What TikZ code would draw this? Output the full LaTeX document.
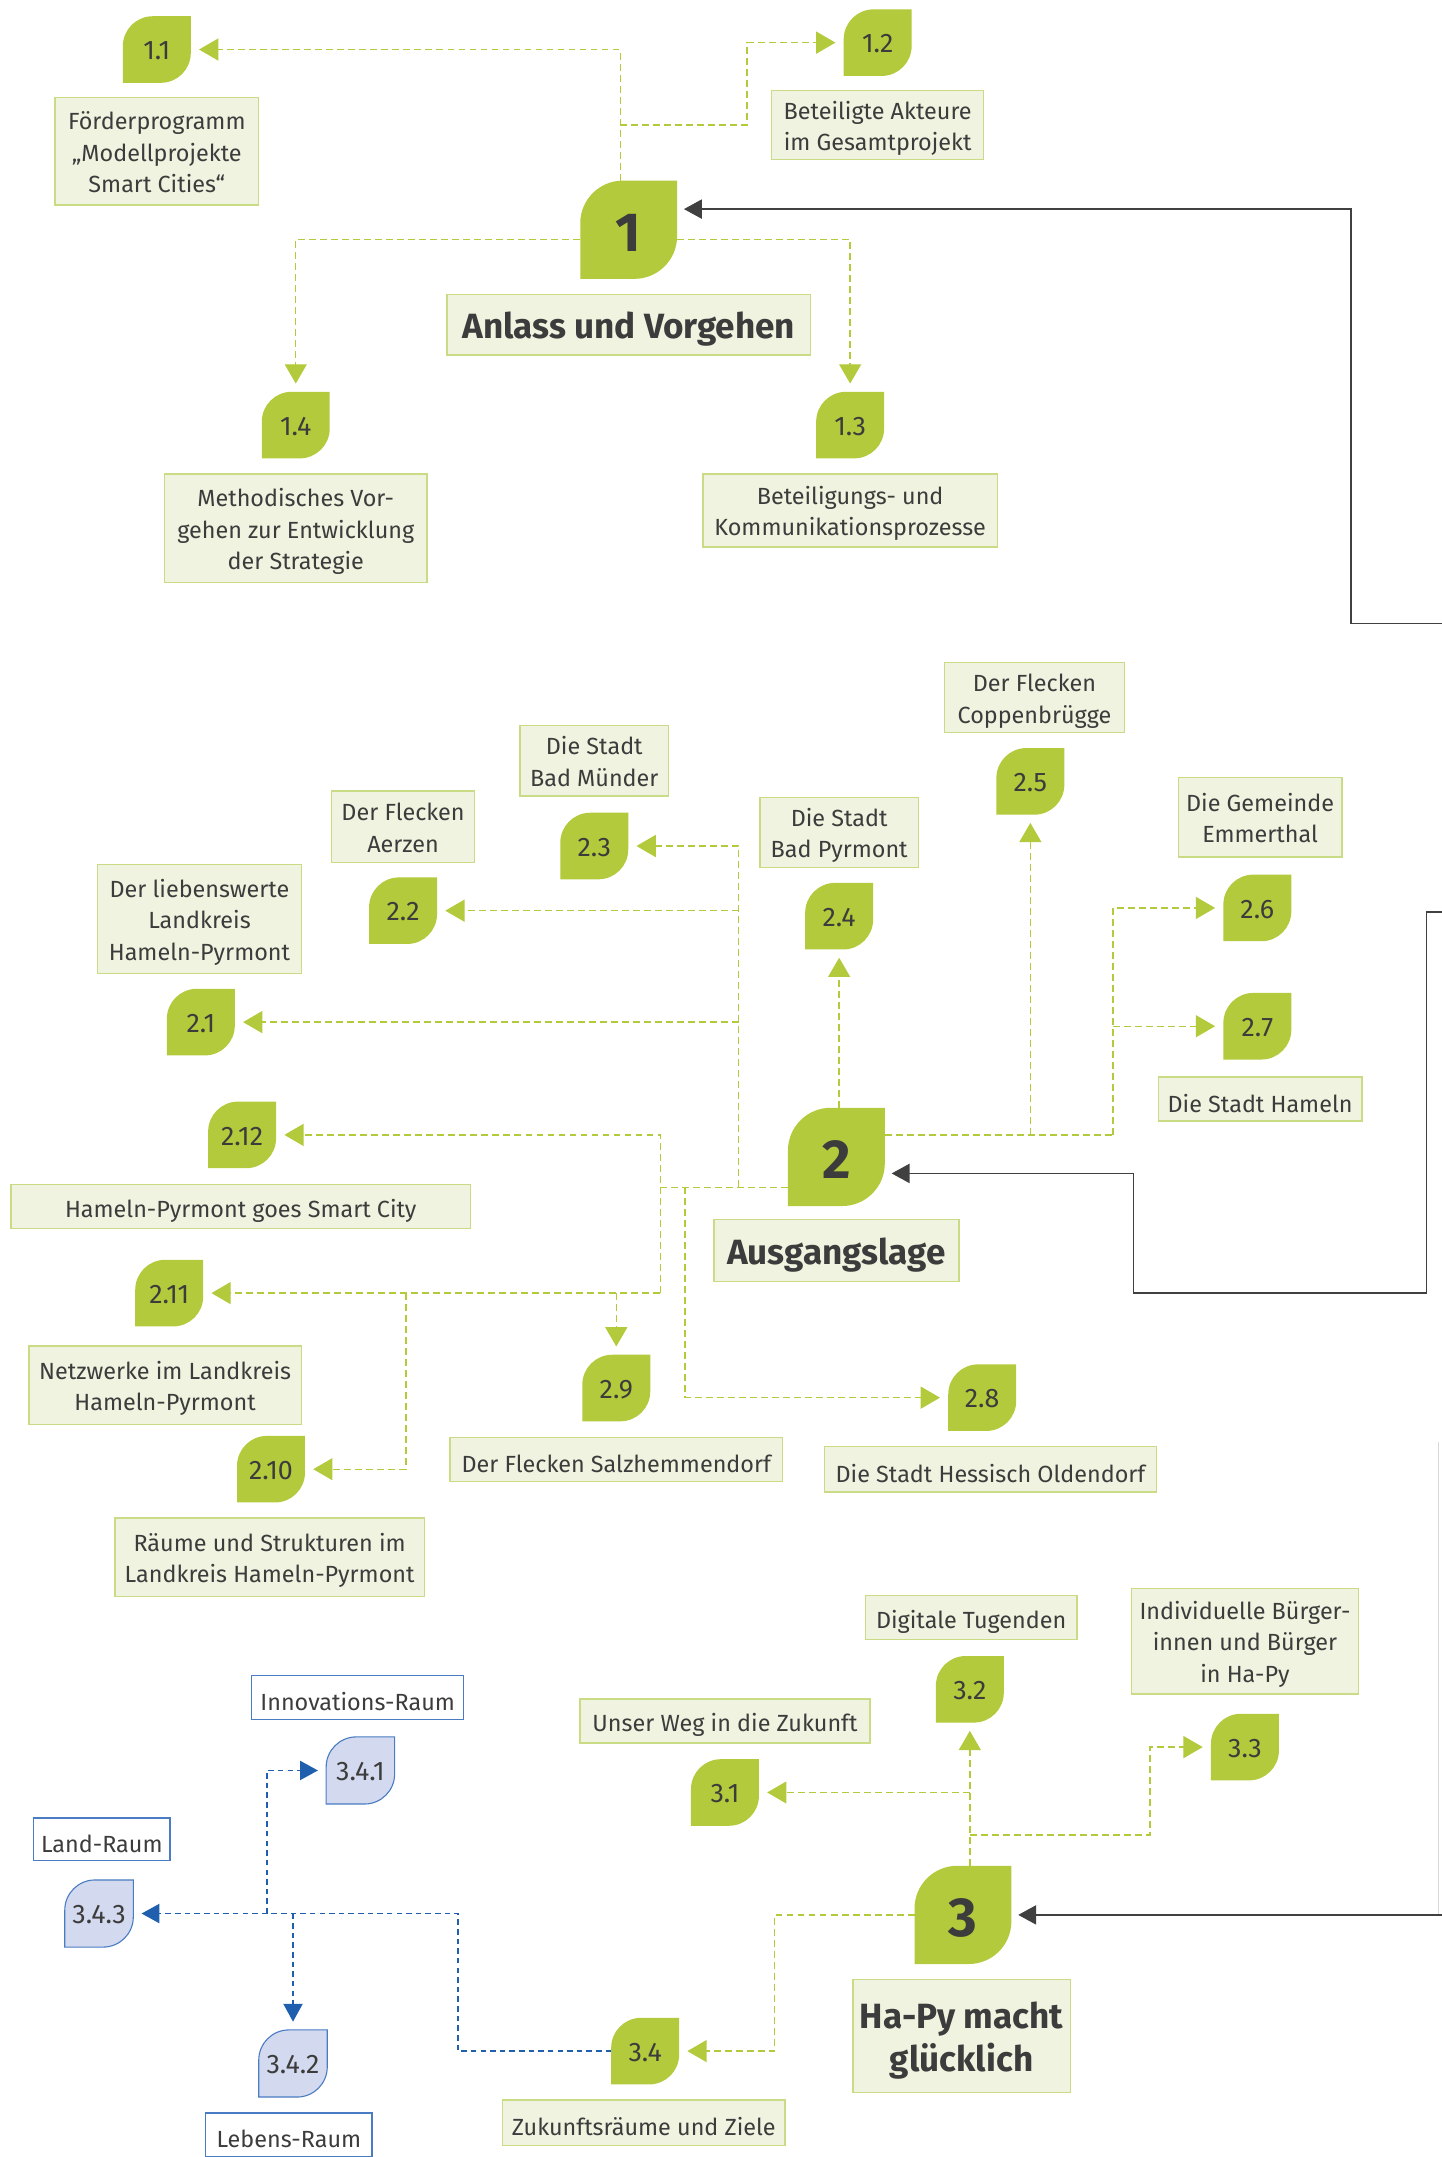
\documentclass[tikz,border=0pt]{standalone}
\usepackage{fontspec}
\setmainfont{Fira Sans}
\usetikzlibrary{arrows.meta}
\definecolor{leafg}{HTML}{B2CA3B}
\definecolor{boxfill}{HTML}{F0F3DF}
\definecolor{boxline}{HTML}{C9DB84}
\definecolor{txt}{HTML}{3C3C3C}
\definecolor{bluel}{HTML}{1F5FAE}
\definecolor{bluefill}{HTML}{D3D9EE}
\definecolor{blueline}{HTML}{4A7CC4}
\definecolor{darkline}{HTML}{404040}
\newcommand\dn[2][2.5pt]{\raisebox{-#1}[\height][\depth]{\begin{tabular}{@{}c@{}}#2\end{tabular}}}
\newdimen\lfxa \newdimen\lfya \newdimen\lfxb \newdimen\lfyb \newdimen\lfr
\makeatletter
\pgfdeclareshape{leaf}{
  \inheritsavedanchors[from=rectangle]
  \inheritanchorborder[from=rectangle]
  \inheritanchor[from=rectangle]{center}
  \inheritanchor[from=rectangle]{north}
  \inheritanchor[from=rectangle]{south}
  \inheritanchor[from=rectangle]{west}
  \inheritanchor[from=rectangle]{east}
  \inheritanchor[from=rectangle]{north west}
  \inheritanchor[from=rectangle]{north east}
  \inheritanchor[from=rectangle]{south west}
  \inheritanchor[from=rectangle]{south east}
  \inheritanchor[from=rectangle]{mid}
  \inheritanchor[from=rectangle]{base}
  \backgroundpath{
    \southwest \lfxa=\pgf@x \lfya=\pgf@y
    \northeast \lfxb=\pgf@x \lfyb=\pgf@y
    \lfr=\lfxb \advance\lfr by -\lfxa \lfr=0.44\lfr
    \pgfpathmoveto{\pgfqpoint{\lfxa}{\lfya}}
    \pgfpathlineto{\pgfpoint{\the\lfxa}{\the\lfyb-\the\lfr}}
    \pgfpatharc{180}{90}{\the\lfr}
    \pgfpathlineto{\pgfqpoint{\lfxb}{\lfyb}}
    \pgfpathlineto{\pgfpoint{\the\lfxb}{\the\lfya+\the\lfr}}
    \pgfpatharc{0}{-90}{\the\lfr}
    \pgfpathclose
  }
}
\makeatother
\tikzset{
  leaf/.style={shape=leaf, fill=leafg, minimum width=49pt, minimum height=48pt, inner sep=0pt, text=txt, font=\fontsize{19.5}{22}\selectfont, execute at begin node={\rule{0pt}{15pt}}},
  bigleaf/.style={leaf, minimum width=70pt, minimum height=71pt, font=\bfseries\fontsize{40}{44}\selectfont, execute at begin node={\rule{0pt}{32pt}}},
  bleaf/.style={leaf, fill=bluefill, draw=blueline, line width=0.8pt},
  lbl/.style={draw=boxline, fill=boxfill, line width=1pt, text=txt, inner sep=0pt, font=\fontsize{17}{23}\selectfont, execute at begin node={\rule{0pt}{19pt}}},
  ttl/.style={lbl, font=\bfseries\fontsize{25.5}{31}\selectfont, execute at begin node={\rule{0pt}{26pt}}},
  blbl/.style={lbl, draw=blueline, fill=white},
  gdash/.style={draw=leafg, line width=1pt, dash pattern=on 5pt off 3pt},
  garr/.style={gdash, -{Triangle[length=14pt,width=16pt]}, shorten >=6pt},
  barr/.style={draw=bluel, line width=1pt, dash pattern=on 4pt off 3pt, -{Triangle[length=13pt,width=14pt]}, shorten >=6pt},
  darr/.style={draw=darkline, line width=0.9pt, -{Triangle[length=13pt,width=14pt]}, shorten >=5pt}
}
\begin{document}
\begin{tikzpicture}[x=1pt,y=-1pt]
\useasboundingbox (0,0) rectangle (1048,1568);
% ---------- Section 1
\node[leaf] (l11) at (114,36) {1.1};
\node[lbl, minimum width=148pt, minimum height=78pt] (b11) at (114,110) {\dn{Förderprogramm\\„Modellprojekte\\Smart Cities“}};
\node[leaf] (l12) at (638,31) {1.2};
\node[lbl, minimum width=154pt, minimum height=50pt] (b12) at (638,91) {\dn{Beteiligte Akteure\\im Gesamtprojekt}};
\node[leaf, bigleaf] (l1) at (457,167) {1};
\node[ttl, minimum width=264pt, minimum height=44pt] (b1) at (457,236) {Anlass und Vorgehen};
\node[leaf] (l14) at (215,309) {1.4};
\node[lbl, minimum width=191pt, minimum height=79pt] (b14) at (215,384) {\dn{Methodisches Vor-\\gehen zur Entwicklung\\der Strategie}};
\node[leaf] (l13) at (618,309) {1.3};
\node[lbl, minimum width=214pt, minimum height=53pt] (b13) at (618,371) {\dn{Beteiligungs- und\\Kommunikationsprozesse}};

\draw[garr] ([xshift=-6pt]l1.north) |- (l11);
\draw[garr] ([xshift=-6pt]l1.north |- 0,91) -- (543,91) |- (l12);
\draw[garr] (l1.west |- 0,174) -| (l14);
\draw[garr] (l1.east |- 0,174) -| (l13);
\coordinate (e1) at (1048,453);
\draw[darr] (e1) -| (982,152) -- (l1.east |- 0,152);

% ---------- Section 2
\node[lbl, minimum width=131pt, minimum height=51pt] (b25) at (752,507) {\dn{Der Flecken\\Coppenbrügge}};
\node[leaf] (l25) at (749,568) {2.5};
\node[lbl, minimum width=108pt, minimum height=51pt] (b23) at (432,553) {\dn{Die Stadt\\Bad Münder}};
\node[leaf] (l23) at (432,615) {2.3};
\node[lbl, minimum width=104pt, minimum height=52pt] (b22) at (293,601) {\dn{Der Flecken\\Aerzen}};
\node[leaf] (l22) at (293,662) {2.2};
\node[lbl, minimum width=148pt, minimum height=79pt] (b21) at (145,668) {\dn{Der liebenswerte\\Landkreis\\Hameln-Pyrmont}};
\node[leaf] (l21) at (146,743) {2.1};
\node[lbl, minimum width=115pt, minimum height=51pt] (b24) at (610,605) {\dn{Die Stadt\\Bad Pyrmont}};
\node[leaf] (l24) at (610,666) {2.4};
\node[lbl, minimum width=119pt, minimum height=58pt] (b26) at (916,594) {\dn{Die Gemeinde\\Emmerthal}};
\node[leaf] (l26) at (914,660) {2.6};
\node[leaf] (l27) at (914,746) {2.7};
\node[lbl, minimum width=148pt, minimum height=32pt] (b27) at (916,799) {Die Stadt Hameln};
\node[leaf, bigleaf] (l2) at (608,841) {2};
\node[ttl, minimum width=178pt, minimum height=45pt] (b2) at (608,909) {Ausgangslage};
\node[leaf] (l212) at (176,825) {2.12};
\node[lbl, minimum width=334pt, minimum height=32pt] (b212) at (175,877) {Hameln-Pyrmont goes Smart City};
\node[leaf] (l211) at (123,940) {2.11};
\node[lbl, minimum width=198pt, minimum height=57pt] (b211) at (120,1007) {\dn{Netzwerke im Landkreis\\Hameln-Pyrmont}};
\node[leaf] (l210) at (197,1068) {2.10};
\node[lbl, minimum width=225pt, minimum height=57pt] (b210) at (196,1132) {\dn{Räume und Strukturen im\\Landkreis Hameln-Pyrmont}};
\node[leaf] (l29) at (448,1009) {2.9};
\node[lbl, minimum width=242pt, minimum height=32pt] (b29) at (448,1061) {Der Flecken Salzhemmendorf};
\node[leaf] (l28) at (714,1016) {2.8};
\node[lbl, minimum width=241pt, minimum height=33pt] (b28) at (720,1068) {Die Stadt Hessisch Oldendorf};

\draw[gdash] (l2.west |- 0,863) -- (480,863);
\draw[garr] (537,863) |- (l23);
\draw[garr] (l22 -| 537,0) -- (l22);
\draw[garr] (l21 -| 537,0) -- (l21);
\draw[garr] (l24 |- l2.north) -- (l24);
\draw[gdash] (l2.east |- 0,825) -- (809,825);
\draw[garr] (l25 |- 0,825) -- (l25);
\draw[garr] (809,825) |- (l26);
\draw[garr] (l27 -| 809,0) -- (l27);
\draw[garr] (480,940) |- (l212);
\draw[garr] (l211 -| 480,0) -- (l211);
\draw[garr] (l211 -| 295,0) |- (l210);
\draw[garr] (l211 -| l29) -- (l29);
\draw[garr] (498,863) |- (l28);
\coordinate (e2) at (1048,663);
\draw[darr] (e2) -- (1037,663) -- (1037,940) -- (824,940) -- (824,853) -- (l2.east |- 0,853);

% ---------- Section 3
\node[lbl, minimum width=154pt, minimum height=32pt] (b32) at (706,1176) {Digitale Tugenden};
\node[leaf] (l32) at (705,1228) {3.2};
\node[lbl, minimum width=211pt, minimum height=32pt] (b31) at (527,1251) {Unser Weg in die Zukunft};
\node[leaf] (l31) at (527,1303) {3.1};
\node[lbl, minimum width=165pt, minimum height=77pt] (b33) at (905,1193) {\dn{Individuelle Bürger-\\innen und Bürger\\in Ha-Py}};
\node[leaf] (l33) at (905,1270) {3.3};
\node[leaf, bigleaf] (l3) at (700,1392) {3};
\node[ttl, minimum width=158pt, minimum height=82pt] (b3) at (699,1480) {\dn[4pt]{Ha-Py macht\\glücklich}};
\node[leaf] (l34) at (469,1491) {3.4};
\node[lbl, minimum width=205pt, minimum height=33pt] (b34) at (468,1543) {Zukunftsräume und Ziele};
\node[leaf, bleaf] (l343) at (72,1391) {3.4.3};
\node[blbl, minimum width=99pt, minimum height=31pt] (b343) at (74,1337) {Land-Raum};
\node[leaf, bleaf] (l341) at (262,1287) {3.4.1};
\node[blbl, minimum width=154pt, minimum height=32pt] (b341) at (260,1234) {Innovations-Raum};
\node[leaf, bleaf] (l342) at (213,1500) {3.4.2};
\node[blbl, minimum width=121pt, minimum height=32pt] (b342) at (210,1552) {Lebens-Raum};

\draw[garr] (l32 |- l3.north) -- (l32);
\draw[garr] (l31 -| l32) -- (l31);
\draw[garr] (l32 |- 0,1334) -- (836,1334) |- (l33);
\draw[garr] (l3.west) -- (563,1392) |- (l34);
\draw[barr] (l34.west) -| (333,1391) -- (l343);
\draw[barr] (194,1391) |- (l341);
\draw[barr] (l342 |- 0,1391) -- (l342);
\coordinate (e3) at (1048,1392);
\draw[draw=black!15, line width=0.8pt] (1046,1048) -- (1046,1392);
\draw[darr] (e3) -- (l3);
\end{tikzpicture}
\end{document}
